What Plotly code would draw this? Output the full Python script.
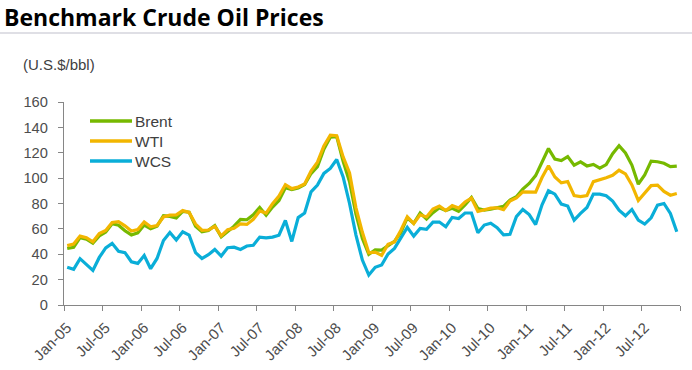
import plotly.graph_objects as go

# ---- data ----
years = ["05", "06", "07", "08", "09", "10", "11", "12"]
month_names = ["Jan", "Feb", "Mar", "Apr", "May", "Jun", "Jul", "Aug", "Sep", "Oct", "Nov", "Dec"]
months = [f"{m}-{y}" for y in years for m in month_names]

brent = [44.5, 45.5, 53.1, 51.9, 48.7, 54.4, 57.5, 64.0, 62.9, 58.5, 55.2, 56.9,
         63.0, 60.2, 62.1, 70.3, 69.8, 68.6, 73.7, 73.2, 62.0, 57.8, 58.8, 62.5,
         53.7, 57.6, 62.1, 67.5, 67.2, 71.1, 76.9, 70.8, 77.2, 82.3, 92.4, 90.9,
         92.2, 95.0, 103.6, 109.1, 122.8, 132.3, 132.7, 113.2, 97.2, 71.6, 52.5, 40.0,
         43.4, 43.3, 46.5, 50.2, 57.3, 68.6, 64.4, 72.5, 67.7, 72.8, 76.7, 74.5,
         76.2, 73.8, 78.8, 84.8, 76.0, 74.8, 75.6, 77.0, 77.8, 82.7, 85.3, 91.3,
         95.8, 102.0, 113.0, 123.3, 115.0, 113.8, 117.0, 110.2, 112.8, 109.6, 110.8, 107.9,
         110.7, 119.3, 125.5, 119.8, 110.3, 95.2, 102.6, 113.4, 112.9, 111.7, 109.1, 109.5]

wti = [46.8, 48.0, 54.3, 53.0, 49.8, 56.3, 58.7, 65.0, 65.6, 62.4, 58.3, 59.4,
       65.5, 61.6, 62.7, 69.4, 70.8, 71.0, 74.4, 73.0, 63.8, 58.9, 59.1, 62.0,
       54.5, 59.3, 60.4, 64.0, 63.5, 67.5, 74.1, 72.4, 79.9, 85.8, 94.8, 91.7,
       93.0, 95.4, 105.5, 112.6, 125.4, 133.9, 133.4, 116.7, 104.1, 76.6, 57.3, 41.1,
       41.7, 39.1, 47.9, 49.7, 59.0, 69.6, 64.2, 71.1, 69.4, 75.7, 78.0, 74.5,
       78.3, 76.4, 81.2, 84.3, 73.7, 75.3, 76.3, 76.6, 75.2, 81.9, 84.3, 89.2,
       89.2, 88.9, 100.5, 109.8, 100.9, 96.3, 97.3, 86.3, 85.5, 86.3, 97.2, 98.6,
       100.3, 102.2, 106.2, 103.3, 94.7, 82.3, 87.9, 94.1, 94.5, 89.5, 86.5, 87.9]

wcs = [29.7, 28.1, 36.5, 31.5, 27.3, 37.5, 45.0, 48.6, 42.3, 41.3, 34.1, 32.8,
       39.0, 28.6, 36.7, 50.8, 57.1, 51.2, 57.7, 55.1, 41.3, 36.7, 39.6, 43.8,
       38.6, 45.1, 45.6, 43.8, 46.5, 47.1, 53.5, 52.9, 53.5, 55.0, 66.6, 50.1,
       68.9, 72.5, 89.2, 94.5, 103.7, 107.6, 114.7, 101.0, 80.0, 55.1, 35.4, 23.6,
       29.7, 31.5, 40.2, 44.6, 53.3, 61.2, 54.3, 60.3, 59.6, 65.3, 65.4, 61.7,
       69.0, 68.2, 72.5, 72.5, 57.0, 63.0, 64.5, 61.0, 55.3, 55.7, 69.6, 75.3,
       71.3, 63.4, 79.0, 90.0, 87.4, 79.5, 78.0, 66.9, 72.2, 76.9, 87.4, 87.4,
       86.1, 81.9, 74.8, 70.3, 75.3, 66.9, 63.8, 68.7, 78.7, 80.0, 72.2, 57.7]

series_names = ["Brent", "WTI", "WCS"]
colors = {"Brent": "#76B900", "WTI": "#F2B600", "WCS": "#0AAED8"}
y_ticks = [0, 20, 40, 60, 80, 100, 120, 140, 160]

# ---- geometry helpers (pixels -> paper) ----
W, H = 692, 370
L, R, T, B = 64, 12, 102, 65
pw, ph = W - L - R, H - T - B


def px(x):
    return (x - L) / pw


def py(y):
    return (H - B - y) / ph


xs = list(range(len(months)))
tickpos = [i - 0.5 for i in range(0, len(months) + 1, 6)]
ticktext = [months[i] for i in range(0, len(months), 6)] + [""]

fig = go.Figure()
data = {"Brent": brent, "WTI": wti, "WCS": wcs}
for name in ["WCS", "Brent", "WTI"]:
    fig.add_trace(go.Scatter(
        x=xs, y=data[name], mode="lines", name=name,
        line=dict(color=colors[name], width=3.2),
        text=months, hovertemplate="%{text}: %{y}<extra>" + name + "</extra>",
        showlegend=False,
    ))

font_txt = "Liberation Sans, Arial, sans-serif"
tick_col = "#4d4d4d"

shapes = []
annotations = []
# title underline
shapes.append(dict(type="line", xref="paper", yref="paper",
                   x0=px(0), x1=px(W), y0=py(33), y1=py(33),
                   line=dict(color="#d5d5dd", width=1.5)))
# manual legend
for k, name in enumerate(series_names):
    yy = 121 + 20 * k
    shapes.append(dict(type="line", xref="paper", yref="paper",
                       x0=px(90), x1=px(132), y0=py(yy), y1=py(yy),
                       line=dict(color=colors[name], width=3.5)))
    annotations.append(dict(xref="paper", yref="paper", x=px(133), y=py(yy),
                            text=name, showarrow=False, xanchor="left", yanchor="middle",
                            font=dict(family=font_txt, size=15.5, color="#404040")))
# unit label
annotations.append(dict(xref="paper", yref="paper", x=px(21), y=py(65),
                        text="(U.S.$/bbl)", showarrow=False, xanchor="left", yanchor="middle",
                        font=dict(family=font_txt, size=15, color="#404040")))

fig.update_layout(
    width=W, height=H,
    margin=dict(l=L, r=R, t=T, b=B),
    paper_bgcolor="white", plot_bgcolor="white",
    title=dict(text="<b>Benchmark Crude Oil Prices</b>", xref="container", yref="container",
               x=4 / W, xanchor="left", y=1 - 18 / H, yanchor="middle",
               font=dict(family="Open Sans, sans-serif", size=23, color="black")),
    shapes=shapes, annotations=annotations,
    showlegend=False,
)
fig.update_xaxes(range=[-0.5, len(months) - 0.5], tickmode="array",
                 tickvals=tickpos, ticktext=ticktext, tickangle=-45,
                 ticklabelshift=3, ticklabelstandoff=2, automargin=False,
                 showgrid=False, zeroline=False, showline=True,
                 linecolor="#868686", linewidth=1.3, ticks="outside", ticklen=5,
                 tickcolor="#868686", tickwidth=1.3,
                 tickfont=dict(family=font_txt, size=15, color=tick_col))
fig.update_yaxes(range=[0, 160], tickmode="array", tickvals=y_ticks,
                 ticklabelstandoff=7, automargin=False,
                 showgrid=False, zeroline=False, showline=True,
                 linecolor="#868686", linewidth=1.3, ticks="outside", ticklen=5,
                 tickcolor="#868686", tickwidth=1.3,
                 tickfont=dict(family=font_txt, size=14.67, color=tick_col))

fig.write_html("out.html", config={"displayModeBar": False},
               post_script="document.body.style.margin='0';")
